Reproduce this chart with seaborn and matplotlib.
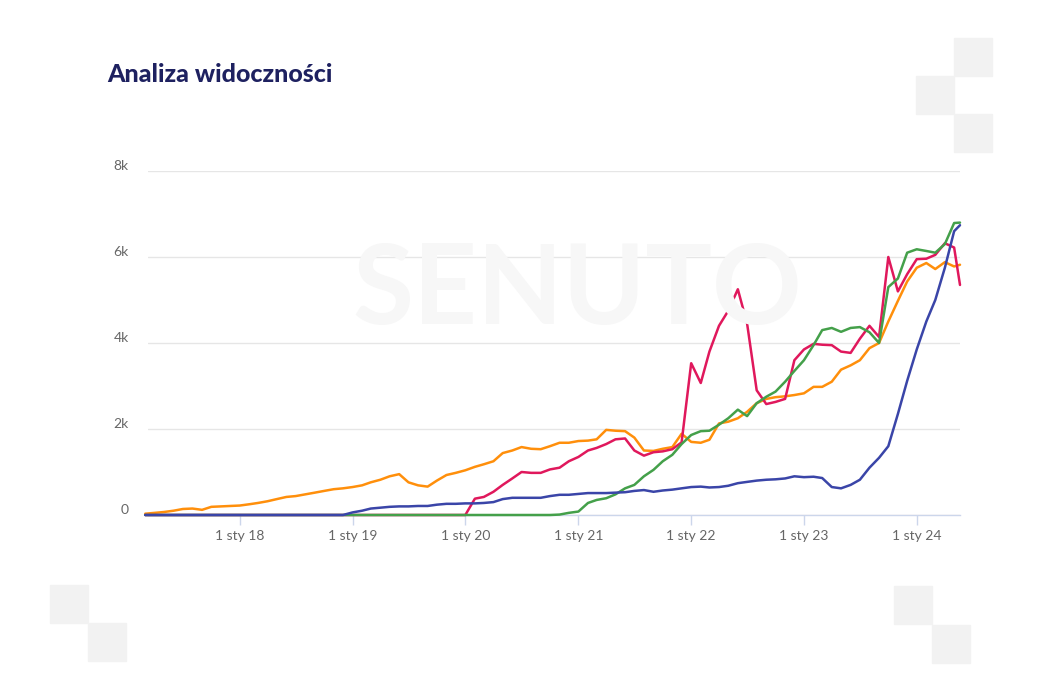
import pandas as pd
import matplotlib
matplotlib.use('Agg')
import matplotlib.pyplot as plt
import matplotlib.transforms as mtransforms
from matplotlib.patches import Rectangle
import seaborn as sns

# miesięczne odczyty widoczności (marzec 2017 - maj 2024 + ostatni pomiar)
dates = list(pd.date_range('2017-03-01', '2024-05-01', freq='MS')) + [pd.Timestamp('2024-05-20')]

orange = [30, 50, 70, 100, 140, 150, 120, 190, 200, 210,
          220, 250, 280, 320, 370, 420, 440, 480, 520, 560, 600, 620,
          650, 690, 760, 820, 900, 950, 760, 690, 660, 800, 930, 980,
          1040, 1120, 1180, 1250, 1440, 1500, 1580, 1540, 1530, 1600, 1680, 1680,
          1720, 1730, 1760, 1980, 1960, 1950, 1800, 1500, 1490, 1540, 1580, 1890,
          1700, 1680, 1750, 2130, 2170, 2250, 2400, 2600, 2700, 2740, 2760, 2790,
          2830, 2980, 2980, 3100, 3380, 3480, 3600, 3880, 4000, 4500, 4980, 5430,
          5750, 5860, 5720, 5880, 5780, 5820]

red = [0, 0, 0, 0, 0, 0, 0, 0, 0, 0,
       0, 0, 0, 0, 0, 0, 0, 0, 0, 0, 0, 0,
       0, 0, 0, 0, 0, 0, 0, 0, 0, 0, 0, 0,
       0, 380, 420, 540, 700, 850, 1000, 980, 980, 1060, 1100, 1250,
       1350, 1500, 1560, 1650, 1760, 1780, 1500, 1380, 1460, 1480, 1530, 1690,
       3530, 3070, 3800, 4400, 4750, 5250, 4450, 2900, 2580, 2630, 2700, 3600,
       3850, 3980, 3960, 3950, 3800, 3770, 4100, 4400, 4140, 6000, 5200, 5600,
       5950, 5960, 6050, 6320, 6220, 5350]

green = [0, 0, 0, 0, 0, 0, 0, 0, 0, 0,
         0, 0, 0, 0, 0, 0, 0, 0, 0, 0, 0, 0,
         0, 0, 0, 0, 0, 0, 0, 0, 0, 0, 0, 0,
         0, 0, 0, 0, 0, 0, 0, 0, 0, 0, 10, 50,
         80, 280, 350, 390, 480, 620, 700, 900, 1050, 1250, 1400, 1650,
         1860, 1950, 1960, 2100, 2250, 2450, 2300, 2600, 2750, 2870, 3100, 3350,
         3600, 3950, 4300, 4350, 4260, 4350, 4370, 4250, 4000, 5300, 5500, 6100,
         6180, 6140, 6100, 6300, 6790, 6800]

navy = [0, 0, 0, 0, 0, 0, 0, 0, 0, 0,
        0, 0, 0, 0, 0, 0, 0, 0, 0, 0, 0, 0,
        60, 100, 150, 170, 190, 200, 200, 210, 210, 240, 260, 260,
        270, 270, 280, 300, 370, 400, 400, 400, 400, 440, 470, 470,
        490, 510, 510, 510, 520, 530, 560, 580, 540, 570, 590, 620,
        650, 660, 640, 650, 680, 740, 770, 800, 820, 830, 850, 900,
        880, 890, 860, 650, 620, 700, 820, 1100, 1330, 1600, 2350, 3120,
        3850, 4500, 5000, 5750, 6600, 6740]

series_names = ['orange', 'red', 'green', 'navy']
colors = ['#ff8f0b', '#e0185c', '#44a04a', '#3a45a8']

year_ticks = pd.date_range('2018-01-01', '2024-01-01', freq='YS')
tick_labels = ['1 sty 18', '1 sty 19', '1 sty 20', '1 sty 21',
               '1 sty 22', '1 sty 23', '1 sty 24']
y_ticks = [0, 2000, 4000, 6000, 8000]
y_labels = ['0', '2k', '4k', '6k', '8k']

df = pd.DataFrame({'data': dates * 4,
                   'wartosc': orange + red + green + navy,
                   'seria': sum([[n] * len(dates) for n in series_names], [])})

sns.set_style('white')
plt.rcParams['font.family'] = ['Lato', 'DejaVu Sans']

W, H = 1040, 694
fig = plt.figure(figsize=(W / 100, H / 100), dpi=100)

# ozdobne kwadraty
for (px, py) in [(954, 38), (916, 76), (954, 114), (50, 585), (88, 623), (894, 586), (932, 625)]:
    fig.patches.append(Rectangle((px / W, 1 - (py + 38) / H), 38 / W, 38 / H,
                                 transform=fig.transFigure, color='#f2f2f2', zorder=0))

# znak wodny
fig.text(577 / W, 1 - 292 / H, 'SENUTO', ha='center', va='center', fontsize=80,
         fontweight='bold', color='#f7f7f7', family=['Lato', 'DejaVu Sans'], zorder=0)

ax = fig.add_axes([148 / W, 1 - 515 / H, (960 - 148) / W, (515 - 171) / H])
ax.set_facecolor('none')

sns.lineplot(data=df, x='data', y='wartosc', hue='seria', palette=colors,
             linewidth=1.8, legend=False, ax=ax, clip_on=False)

ax.set_xlim(pd.Timestamp('2017-03-10'), pd.Timestamp('2024-05-20'))
ax.set_ylim(0, 8000)
ax.set_xticks(year_ticks)
ax.set_xticklabels(tick_labels)
ax.set_yticks(y_ticks)
ax.set_yticklabels(y_labels)
ax.set_xlabel('')
ax.set_ylabel('')

ax.grid(axis='y', color='#e6e6e6', linewidth=1)
ax.grid(axis='x', visible=False)
for s in ['top', 'right', 'left']:
    ax.spines[s].set_visible(False)
ax.spines['bottom'].set_color('#ccd6eb')
ax.spines['bottom'].set_linewidth(1)
ax.spines['bottom'].set_zorder(0.5)

ax.tick_params(axis='x', colors='#ccd6eb', labelcolor='#666666', labelsize=10,
               length=7, width=1, direction='out', pad=4, bottom=True)
ax.tick_params(axis='y', labelcolor='#666666', labelsize=10, length=0, pad=14)

offset = mtransforms.ScaledTranslation(0, 6 / 100, fig.dpi_scale_trans)
for lab in ax.get_yticklabels():
    lab.set_transform(lab.get_transform() + offset)

fig.text(107 / W, 1 - 75 / H, 'Analiza widoczności', ha='left', va='center',
         fontsize=18, fontweight='black', color='#1e2160')

plt.savefig('out.png', dpi=100)
